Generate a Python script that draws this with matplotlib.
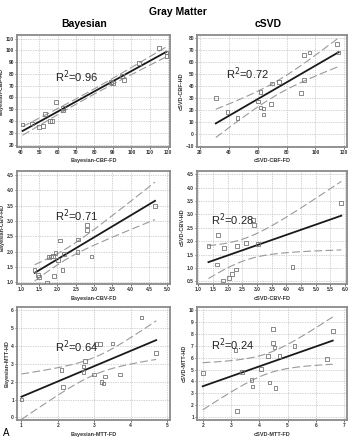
import numpy as np
import matplotlib
matplotlib.use("Agg")
import matplotlib.pyplot as plt

plt.rcParams["font.family"] = ["Liberation Sans", "DejaVu Sans"]

# ---------------- data ----------------
cbf_bayes_fd = [41, 46, 50, 52, 53, 56, 57, 59, 63, 63, 89, 90, 95, 96, 104, 115, 119, 119]
cbf_bayes_hd = [37, 38, 35, 36, 46, 40, 40, 56, 51, 49, 73, 72, 78, 75, 89, 102, 98, 95]

cbf_csvd_fd = [31, 39, 46, 60, 62, 62, 64, 64, 69, 70, 75, 90, 92, 92, 96, 115, 116]
cbf_csvd_hd = [30, 18, 13, 27, 35, 22, 21, 16, 25, 42, 43, 34, 45, 66, 68, 75, 68]

cbv_bayes_fd = [1.38, 1.47, 1.49, 1.72, 1.77, 1.83, 1.88, 1.95, 1.91, 2.02, 2.07, 2.14, 2.18,
                2.57, 2.55, 2.80, 2.81, 2.93, 4.66]
cbv_bayes_hd = [1.41, 1.24, 1.17, 1.00, 1.82, 1.85, 1.86, 1.97, 1.22, 1.74, 2.37, 1.41, 1.93,
                2.40, 2.00, 2.88, 2.70, 1.85, 3.49]

cbv_csvd_fd = [1.34, 1.67, 1.64, 1.88, 1.84, 2.03, 2.14, 2.28, 2.31, 2.62, 2.87, 2.90, 3.04, 4.21, 5.87]
cbv_csvd_hd = [1.83, 2.24, 1.13, 1.75, 0.53, 0.63, 0.78, 0.94, 1.83, 1.94, 2.78, 2.61, 1.90, 1.03, 3.43]

mtt_bayes_fd = [1.0, 2.1, 2.15, 2.7, 2.75, 2.7, 3.05, 3.15, 3.5, 3.0, 3.2, 3.25, 3.3, 3.7, 4.3, 4.7]
mtt_bayes_hd = [1.0, 2.65, 1.7, 2.85, 3.15, 2.55, 4.1, 4.1, 4.15, 2.4, 2.0, 1.9, 2.3, 2.4, 5.6, 3.6]

mtt_csvd_fd = [2.0, 3.16, 3.21, 3.38, 3.72, 3.76, 4.05, 4.31, 4.36, 4.49, 4.49, 4.53, 4.57, 4.71, 5.24, 6.39, 6.59]
mtt_csvd_hd = [4.69, 6.65, 1.48, 4.83, 4.13, 3.58, 5.08, 6.15, 3.91, 8.46, 7.26, 6.87, 3.44, 6.15, 7.01, 5.92, 8.27]

r2_labels = ["R$^2$=0.96", "R$^2$=0.72", "R$^2$=0.71", "R$^2$=0.28", "R$^2$=0.64", "R$^2$=0.24"]
x_names = ["Bayesian-CBF-FD", "cSVD-CBF-FD", "Bayesian-CBV-FD", "cSVD-CBV-FD", "Bayesian-MTT-FD", "cSVD-MTT-FD"]
y_names = ["Bayesian-CBF-HD", "cSVD-CBF-HD", "Bayesian-CBV-HD", "cSVD-CBV-HD", "Bayesian-MTT-HD", "cSVD-MTT-HD"]

panels = [
    # x, y, xlim, ylim, xticks, yticks, text pos (axes fraction)
    (cbf_bayes_fd, cbf_bayes_hd, (38, 121), (18, 113), np.arange(40, 121, 10), np.arange(20, 111, 10), (0.25, 0.625)),
    (cbf_csvd_fd, cbf_csvd_hd, (18, 122), (-11, 82.5), np.arange(20, 121, 20), np.arange(-10, 81, 10), (0.19, 0.65)),
    (cbv_bayes_fd, cbv_bayes_hd, (0.9, 5.07), (0.95, 4.63), np.arange(1.0, 5.01, 0.5), np.arange(1.0, 4.51, 0.5), (0.25, 0.60)),
    (cbv_csvd_fd, cbv_csvd_hd, (0.95, 6.07), (0.4, 4.62), np.arange(1.0, 6.01, 0.5), np.arange(0.5, 4.51, 0.5), (0.09, 0.57)),
    (mtt_bayes_fd, mtt_bayes_hd, (0.88, 5.08), (-0.15, 6.2), np.arange(1, 6), np.arange(0, 7), (0.25, 0.65)),
    (mtt_csvd_fd, mtt_csvd_hd, (1.8, 7.1), (0.75, 10.3), np.arange(2, 8), np.arange(1, 11), (0.09, 0.67)),
]

# axes boxes in figure fraction
col_left = [0.048, 0.555]
col_w = [0.431, 0.423]
row_bottom = [0.666, 0.3545, 0.0455]
row_h = [0.2545, 0.257, 0.257]

fig = plt.figure(figsize=(3.55, 4.4), dpi=100)

for i, (xs, ys, xl, yl, xt, yt, tpos) in enumerate(panels):
    r, c = divmod(i, 2)
    ax = fig.add_axes([col_left[c], row_bottom[r], col_w[c], row_h[r]])
    x = np.array(xs, dtype=float)
    y = np.array(ys, dtype=float)

    # regression line + 95% CI of the line
    b, a = np.polyfit(x, y, 1)
    n = len(x)
    resid = y - (a + b * x)
    s = np.sqrt(np.sum(resid ** 2) / (n - 2))
    sxx = np.sum((x - x.mean()) ** 2)
    xx = np.linspace(x.min(), x.max(), 100)
    yy = a + b * xx
    half = 2.12 * s * np.sqrt(1.0 / n + (xx - x.mean()) ** 2 / sxx)

    ax.plot(xx, yy + half, color="#9a9a9a", lw=0.8, ls=(0, (7, 3)))
    ax.plot(xx, yy - half, color="#9a9a9a", lw=0.8, ls=(0, (7, 3)))
    ax.plot(xx, yy, color="#1a1a1a", lw=1.3)
    ax.scatter(x, y, marker="s", s=7, facecolors="none", edgecolors="#777777", linewidths=0.6, zorder=3)

    ax.set_xlim(xl)
    ax.set_ylim(yl)
    ax.set_xticks(xt)
    ax.set_yticks(yt)
    if i in (2, 3):
        ax.set_xticklabels([f"{v:.1f}" for v in xt])
        ax.set_yticklabels([f"{v:.1f}" for v in yt])
    ax.grid(True, color="#a8a8a8", ls=(0, (1, 1.5)), lw=0.5)
    ax.set_axisbelow(True)
    ax.tick_params(labelsize=3.5, length=1.2, width=0.5, pad=1, colors="#333333")
    for lab in ax.get_xticklabels() + ax.get_yticklabels():
        lab.set_fontweight("bold")
    for sp in ax.spines.values():
        sp.set_color("#8a8a8a")
        sp.set_linewidth(1.3)

    ax.set_xlabel(x_names[i], fontsize=4, fontweight="bold", color="#333333", labelpad=2.5)
    ax.set_ylabel(y_names[i], fontsize=4, fontweight="bold", color="#333333", labelpad=1.5)
    ax.text(tpos[0], tpos[1], r2_labels[i], transform=ax.transAxes, fontsize=8,
            ha="left", va="center", color="#222222")

fig.text(0.5, 0.985, "Gray Matter", ha="center", va="top", fontsize=7.5, fontweight="bold")
fig.text(0.237, 0.956, "Bayesian", ha="center", va="top", fontsize=7.5, fontweight="bold")
fig.text(0.755, 0.956, "cSVD", ha="center", va="top", fontsize=7.5, fontweight="bold")
fig.text(0.008, 0.005, "A", ha="left", va="bottom", fontsize=7)

fig.savefig("out.png", dpi=100)
